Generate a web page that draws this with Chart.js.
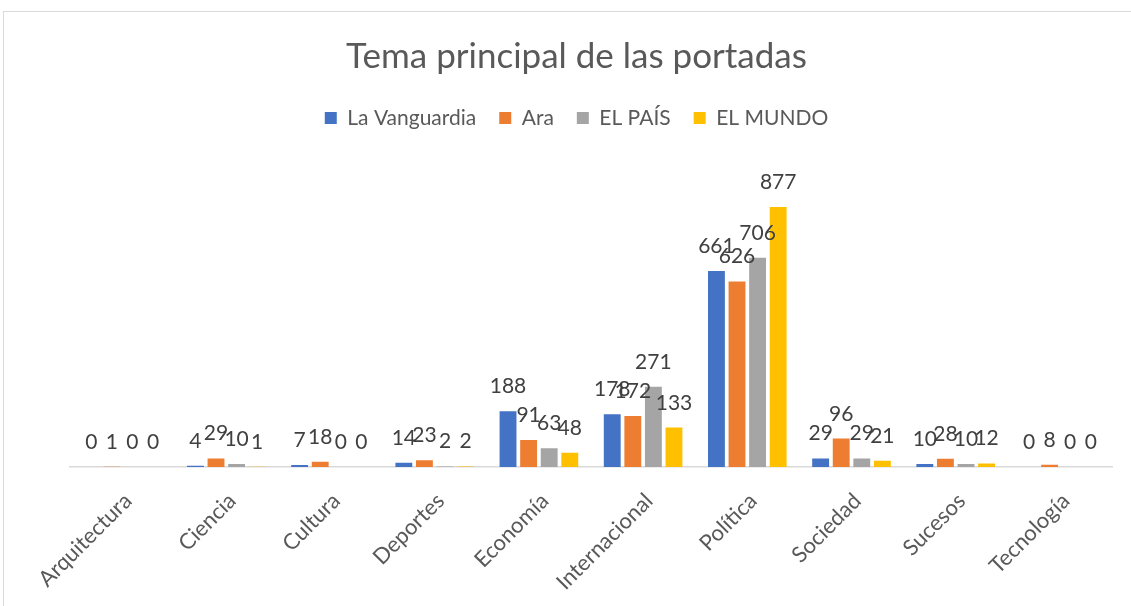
<!DOCTYPE html>
<html lang="es">
<head>
<meta charset="utf-8">
<title>Tema principal de las portadas</title>
<script src="https://cdn.jsdelivr.net/npm/chart.js@4.4.0/dist/chart.umd.min.js"></script>
<style>
  html, body { margin: 0; padding: 0; background: #ffffff; }
  #wrap { position: relative; width: 1131px; height: 606px; overflow: hidden; }
  #frame { position: absolute; left: 3px; top: 11px; width: 1140px; height: 620px;
           border: 1px solid #d9d9d9; box-sizing: border-box; pointer-events: none; }
  canvas { position: absolute; left: 0; top: 0; }
</style>
</head>
<body>
<div id="wrap">
  <canvas id="chart" width="1131" height="606"></canvas>
  <div id="frame"></div>
</div>
<script>
// Temas de portada por periódico
const categories = ['Arquitectura', 'Ciencia', 'Cultura', 'Deportes', 'Economía',
                    'Internacional', 'Política', 'Sociedad', 'Sucesos', 'Tecnología'];
const laVanguardia = [0, 4, 7, 14, 188, 178, 661, 29, 10, 0];
const ara          = [1, 29, 18, 23, 91, 172, 626, 96, 28, 8];
const elPais       = [0, 10, 0, 2, 63, 271, 706, 29, 10, 0];
const elMundo      = [0, 1, 0, 2, 48, 133, 877, 21, 12, 0];
const seriesNames  = ['La Vanguardia', 'Ara', 'EL PAÍS', 'EL MUNDO'];
const seriesColors = ['#4472C4', '#ED7D31', '#A5A5A5', '#FFC000'];
const yMax = 1000;

const FONT = 'Lato, "Open Sans", sans-serif';

// Etiquetas de valor encima de cada barra
const valueLabels = {
  id: 'valueLabels',
  afterDatasetsDraw(chart) {
    const ctx = chart.ctx;
    ctx.save();
    ctx.font = '21px ' + FONT;
    ctx.fillStyle = '#404040';
    ctx.textAlign = 'center';
    ctx.textBaseline = 'alphabetic';
    chart.data.datasets.forEach((ds, i) => {
      const meta = chart.getDatasetMeta(i);
      meta.data.forEach((bar, j) => {
        ctx.fillText(String(ds.data[j]), bar.x, bar.y - 18);
      });
    });
    ctx.restore();
  }
};

const data = {
  labels: categories,
  datasets: [laVanguardia, ara, elPais, elMundo].map((values, i) => ({
    label: seriesNames[i],
    data: values,
    backgroundColor: seriesColors[i],
    borderWidth: 0,
    categoryPercentage: 0.79,
    barPercentage: 0.82
  }))
};

new Chart(document.getElementById('chart'), {
  type: 'bar',
  data,
  plugins: [valueLabels],
  options: {
    responsive: false,
    animation: false,
    events: [],
    layout: { padding: { left: 41, right: 19, top: 0, bottom: 0 } },
    plugins: {
      title: {
        display: true,
        text: 'Tema principal de las portadas',
        color: '#595959',
        font: { family: FONT, size: 35, weight: 'normal' },
        padding: { top: 36, bottom: 6.5 }
      },
      legend: {
        display: true,
        position: 'top',
        labels: {
          color: '#595959',
          font: { family: FONT, size: 21 },
          boxWidth: 12,
          boxHeight: 12,
          padding: 23
        }
      },
      tooltip: { enabled: false }
    },
    scales: {
      x: {
        position: 'bottom',
        grid: { display: false },
        border: { display: true, color: '#d9d9d9', width: 1.5 },
        ticks: {
          color: '#595959',
          font: { family: FONT, size: 22 },
          minRotation: 45,
          maxRotation: 45,
          padding: 13,
          labelOffset: 6
        },
        afterFit(scale) { scale.height = 139; }
      },
      xTop: {
        type: 'category',
        position: 'top',
        labels: categories,
        grid: { display: false },
        border: { display: false },
        ticks: { display: false },
        afterFit(scale) { scale.height = 32; }
      },
      y: {
        display: true,
        min: 0,
        max: yMax,
        grid: { display: false },
        border: { display: false },
        ticks: { display: false },
        afterFit(scale) { scale.width = 29; }
      }
    }
  }
});
</script>
</body>
</html>
